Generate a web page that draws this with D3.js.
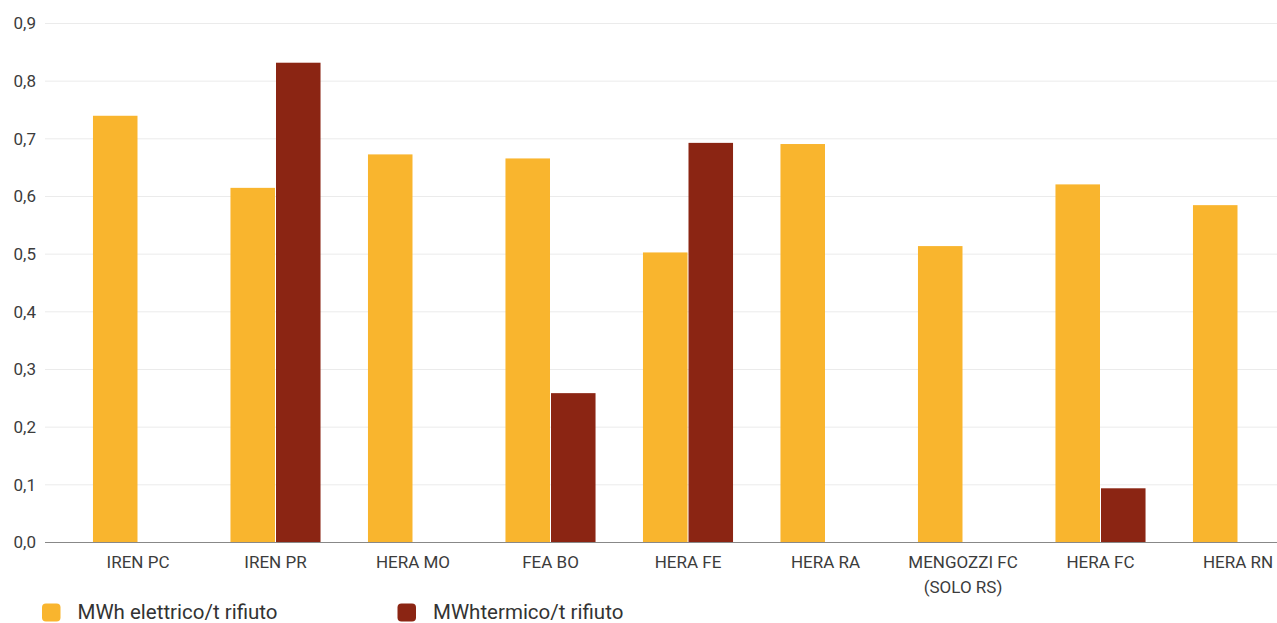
<!DOCTYPE html>
<html><head><meta charset="utf-8">
<script src="https://cdn.jsdelivr.net/npm/d3@7"></script>
<style>body{margin:0;background:#fff;}svg{display:block;font-family:Roboto,sans-serif;}</style>
</head><body><svg id="c" width="1277" height="623"></svg>
<script>
const categories = ["IREN PC","IREN PR","HERA MO","FEA BO","HERA FE","HERA RA","MENGOZZI FC\n(SOLO RS)","HERA FC","HERA RN"];
const seriesNames = ["MWh elettrico/t rifiuto","MWhtermico/t rifiuto"];
const elettrico = [0.740,0.615,0.673,0.666,0.503,0.691,0.514,0.621,0.585];
const termico = [null,0.832,null,0.259,0.693,null,null,0.094,null];
const yTicks = [0,0.1,0.2,0.3,0.4,0.5,0.6,0.7,0.8,0.9];
const colors = ["#F9B52E","#8B2513"];

const svg = d3.select("#c");
const y = d3.scaleLinear().domain([0,0.9]).range([542.5,23.5]);
const x = d3.scaleBand().domain(categories).range([69.25,1306.75]).paddingInner(0.345).paddingOuter(0.1725);
const x1 = d3.scaleBand().domain(seriesNames).range([0,x.bandwidth()]);

// grid
svg.append("g").selectAll("line").data(yTicks.slice(1)).join("line")
  .attr("x1",45).attr("x2",1277).attr("y1",d=>y(d)).attr("y2",d=>y(d))
  .attr("stroke","#ebebeb").attr("stroke-width",1);

// y labels
const yAxis = d3.axisLeft(y).tickValues(yTicks).tickSize(0).tickPadding(0)
  .tickFormat(d=>d.toFixed(1).replace(".",","));
const ya = svg.append("g").attr("transform","translate(36,0)").call(yAxis);
ya.select(".domain").remove();
ya.selectAll("text").attr("font-size",17).attr("fill","#3c3c3c").attr("font-family","Roboto,sans-serif");

// bars
const data = [elettrico, termico];
data.forEach((vals,si)=>{
  svg.append("g").selectAll("rect").data(vals.map((v,i)=>({v,c:categories[i]})).filter(d=>d.v!=null)).join("rect")
    .attr("x",d=>x(d.c)+x1(seriesNames[si]) + (si===1?0.5:0))
    .attr("width",x1.bandwidth()-0.5)
    .attr("y",d=>y(d.v)).attr("height",d=>y(0)-y(d.v))
    .attr("fill",colors[si]);
});

// baseline
svg.append("line").attr("x1",45).attr("x2",1277).attr("y1",y(0)).attr("y2",y(0))
  .attr("stroke","#888").attr("stroke-width",1.2);

// x labels
const xAxis = d3.axisBottom(x).tickSize(0).tickPadding(0);
const xa = svg.append("g").attr("transform",`translate(0,${y(0)})`).call(xAxis);
xa.select(".domain").remove();
xa.selectAll("text").each(function(d){
  const t = d3.select(this);
  t.text(null).attr("y",0).attr("dy",null).attr("font-size",17).attr("fill","#3c3c3c").attr("font-family","Roboto,sans-serif");
  d.split("\n").forEach((line,i)=>{
    t.append("tspan").attr("x",0).attr("y",25+i*25).text(line);
  });
});

// legend
const legX = [42,397.5];
seriesNames.forEach((s,i)=>{
  const g = svg.append("g").attr("transform",`translate(${legX[i]},603.5)`);
  g.append("rect").attr("width",18.5).attr("height",18).attr("rx",4).attr("fill",colors[i]);
  g.append("text").attr("x",35.5).attr("y",15).attr("font-size",20.5).attr("fill","#333").text(s);
});
</script></body></html>
